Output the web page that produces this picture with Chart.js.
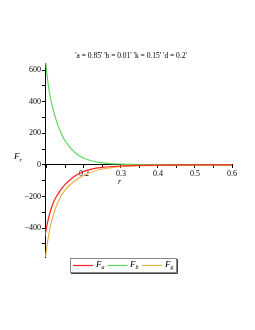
<!DOCTYPE html>
<html><head><meta charset="utf-8">
<script src="https://cdn.jsdelivr.net/npm/chart.js@4/dist/chart.umd.min.js"></script>
<style>
html,body{margin:0;padding:0;background:#fff;}
#wrap{position:relative;width:255px;height:330px;overflow:hidden;font-family:"Liberation Serif","Times New Roman",serif;color:#000;}
canvas{position:absolute;left:0;top:0;}
.t{position:absolute;white-space:nowrap;line-height:1;}
#title{left:0;width:262px;top:52px;text-align:center;font-size:7.5px;}
#ylab{left:14px;top:152px;font-size:9px;font-style:italic;}
#xlab{left:118px;top:178px;font-size:8px;font-style:italic;}
.lt{position:absolute;top:260px;font-size:9px;font-style:italic;line-height:1;}
.lt sub{font-size:6px;vertical-align:-2px;}
</style></head>
<body><div id="wrap">
<canvas id="c" width="255" height="330"></canvas>
<div id="title" class="t">'a = 0.85' 'b = 0.01' 'k = 0.15' 'd = 0.2'</div>
<div id="ylab" class="t">F<sub style="font-size:6px;vertical-align:-3px">r</sub></div>
<div id="xlab" class="t">r</div>
<div class="lt" style="left:96px">F<sub>a</sub></div>
<div class="lt" style="left:130px">F<sub>b</sub></div>
<div class="lt" style="left:165px">F<sub>g</sub></div>
</div>
<script>
const rValues = [0.095,0.1,0.105,0.11,0.115,0.12,0.125,0.13,0.135,0.14,0.15,0.16,0.17,0.18,0.19,0.2,0.22,0.25,0.3,0.35,0.4,0.5,0.6];
const Fa = [-450,-385,-333,-290,-254,-226,-203,-185,-166,-150,-122,-100,-80,-64,-51,-41,-27,-16,-7,-3,-1.5,-0.4,-0.1];
const Fb = [690,579,487,419,370,325,285,250,220,193,150,118,92,70,55,42,26,13,5,2.5,1.2,0.4,0.1];
const Fg = [-612,-520,-445,-385,-336,-298,-265,-237,-211,-190,-158,-132,-112,-95,-79,-66,-45,-26,-11,-5,-2.5,-0.7,-0.2];
const xTickLabels = [0.2,0.3,0.4,0.5,0.6];
const yTickLabels = [-400,-200,0,200,400,600];
const colors = ['#ff2020','#5ad85a','#ecb24a'];

function pts(arr){ return rValues.map((r,i)=>({x:r,y:arr[i]})); }
const ds = (label,data,color)=>({label,data:pts(data),borderColor:color,borderWidth:1.2,pointRadius:0,fill:false,cubicInterpolationMode:'monotone'});

const legendBox = {
  id:'legendBox',
  afterDraw(chart){
    const ctx = chart.ctx;
    ctx.save();
    ctx.strokeStyle = '#888'; ctx.lineWidth = 1;
    ctx.strokeRect(70.5,258.5,106,14);
    ctx.strokeStyle = '#444';
    ctx.beginPath(); ctx.moveTo(177.5,259); ctx.lineTo(177.5,273.5); ctx.lineTo(71,273.5); ctx.stroke();
    chart.data.datasets.forEach((d,i)=>{
      const x0 = 73 + i*34.5;
      ctx.strokeStyle = d.borderColor; ctx.lineWidth = 1.2;
      ctx.beginPath(); ctx.moveTo(x0,265.5); ctx.lineTo(x0+20,265.5); ctx.stroke();
    });
    ctx.restore();
  }
};

new Chart(document.getElementById('c'),{
  type:'line',
  data:{datasets:[ds('Fa',Fa,colors[0]),ds('Fb',Fb,colors[1]),ds('Fg',Fg,colors[2])]},
  plugins:[legendBox],
  options:{
    responsive:false,animation:false,
    layout:{padding:{left:0,right:23,top:63,bottom:73}},
    plugins:{legend:{display:false},title:{display:false},tooltip:{enabled:false}},
    scales:{
      x:{type:'linear',min:0.095,max:0.6,position:{y:0},
        border:{display:true,color:'#000',width:1},
        grid:{drawOnChartArea:false,tickLength:3,color:'#000'},
        ticks:{stepSize:0.05,includeBounds:false,autoSkip:false,maxRotation:0,padding:1,color:'#000',
          font:{family:'"Liberation Serif", serif',size:8},
          callback:(v)=>{const n=Math.round(v*100)/100; return xTickLabels.some(t=>Math.abs(t-n)<1e-6)?n.toFixed(1):'';}}},
      y:{type:'linear',min:-583,max:645,position:'left',
        afterFit:(s)=>{s.width=45;},
        border:{display:true,color:'#000',width:1},
        grid:{drawOnChartArea:false,tickLength:3,color:'#000'},
        ticks:{stepSize:100,includeBounds:false,autoSkip:false,padding:1,color:'#000',
          font:{family:'"Liberation Serif", serif',size:8},
          callback:(v)=>{const n=Math.round(v); return yTickLabels.includes(n)?(n<0?'\u2212'+(-n):String(n)):'';}}}
    }
  }
});
</script>
</body></html>
